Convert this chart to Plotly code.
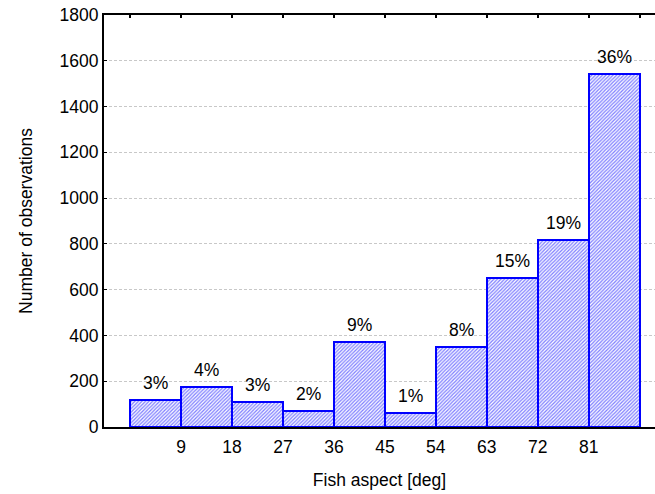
import plotly.graph_objects as go

# Data
bin_starts = [0, 9, 18, 27, 36, 45, 54, 63, 72, 81]
bin_width = 9
counts = [118, 176, 111, 70, 372, 60, 350, 651, 816, 1542]
pct_labels = ["3%", "4%", "3%", "2%", "9%", "1%", "8%", "15%", "19%", "36%"]
x_tick_vals = [9, 18, 27, 36, 45, 54, 63, 72, 81]
top_tick_vals = [0, 9, 18, 27, 36, 45, 54, 63, 72, 81, 90]
y_tick_vals = [0, 200, 400, 600, 800, 1000, 1200, 1400, 1600, 1800]

centers = [s + bin_width / 2 for s in bin_starts]
FONT = "Liberation Sans, Arial, sans-serif"
FS = 17.5

fig = go.Figure()
fig.add_trace(go.Bar(
    x=centers, y=counts, width=[bin_width] * len(counts),
    marker=dict(
        color="white",
        line=dict(color="#0000ff", width=2),
        pattern=dict(shape="/", fgcolor="#0000ff", bgcolor="white",
                     size=2.5, solidity=0.5, fillmode="overlay"),
    ),
    showlegend=False, hoverinfo="skip",
))
fig.add_trace(go.Scatter(x=[None], y=[None], xaxis="x2", showlegend=False))

for xc, yv, lab in zip(centers, counts, pct_labels):
    fig.add_annotation(x=xc, y=yv, text=lab, showarrow=False,
                       yanchor="bottom", yshift=5,
                       font=dict(family=FONT, size=FS, color="black"))

fig.update_layout(
    width=655, height=494,
    margin=dict(l=104, r=0, t=15, b=67, autoexpand=False),
    paper_bgcolor="white", plot_bgcolor="white",
    font=dict(family=FONT, size=FS, color="black"),
    xaxis=dict(
        range=[-4.6, 92.7], showline=True, linecolor="black", linewidth=2,
        showgrid=False, zeroline=False, ticks="", automargin=False,
        tickvals=x_tick_vals, ticktext=[str(v) for v in x_tick_vals],
        ticklabelstandoff=3,
        title=dict(text="Fish aspect [deg]", standoff=18,
                   font=dict(family=FONT, size=FS)),
    ),
    xaxis2=dict(
        range=[-4.6, 92.7], overlaying="x", side="top", automargin=False,
        showline=True, linecolor="black", linewidth=2,
        ticks="inside", ticklen=3, tickwidth=2, tickcolor="black",
        tickvals=top_tick_vals, showticklabels=False, showgrid=False,
        zeroline=False,
    ),
    yaxis=dict(
        range=[0, 1800], showline=True, linecolor="black", linewidth=2,
        tickvals=y_tick_vals, ticks="inside", ticklen=3, tickcolor="black",
        showgrid=True, gridcolor="#c8c8c8", gridwidth=1, griddash="3px,2px",
        zeroline=False, automargin=False,
        title=dict(text="Number of observations", standoff=22,
                   font=dict(family=FONT, size=FS)),
    ),
    bargap=0,
)

fig.write_html(
    "out.html",
    config={"displayModeBar": False},
    post_script="document.body.style.margin='0';document.body.style.overflow='hidden';",
)
